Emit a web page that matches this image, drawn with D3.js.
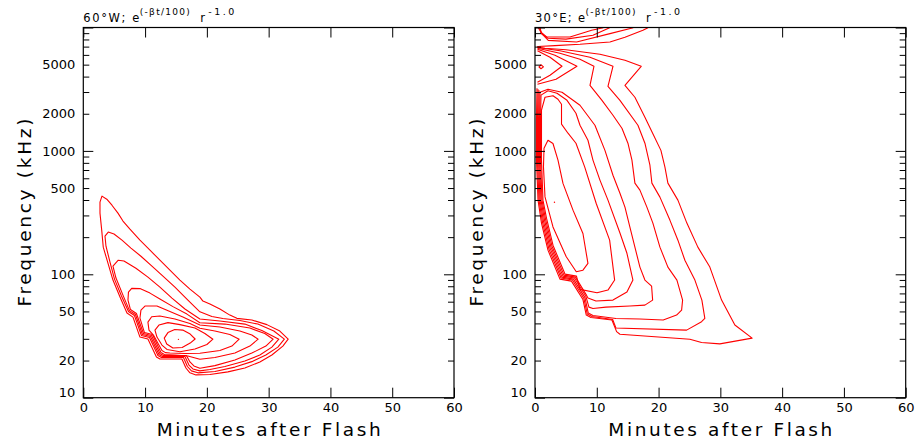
<!DOCTYPE html>
<html>
<head>
<meta charset="utf-8">
<script src="https://cdn.jsdelivr.net/npm/d3@7/dist/d3.min.js"></script>
<style>
  html,body{margin:0;padding:0;background:#fff;}
  svg{display:block;}
</style>
</head>
<body>
<svg id="chart" width="915" height="440"></svg>
<script>
// ---------- axis / text data ----------
const xDomain = [0, 60];
const yDomain = [10, 10000];
const xTickValues = [0, 10, 20, 30, 40, 50, 60];
const yTickLabelValues = [10, 20, 50, 100, 500, 1000, 2000, 5000];
const panelTitles = ["60°W; e", "30°E; e"];
const titleExponent = "(-βt/100)";
const titleTail = "r";
const titleTailExponent = "-1.0";
const xAxisTitle = "Minutes after Flash";
const yAxisTitle = "Frequency (kHz)";

// ---------- contour data: [minutes after flash, frequency kHz] ----------
// 60°W panel (closed contours, outermost first)
const west1 = [[3.02,430],[3.8,406],[4.64,363],[5.61,313],[6.42,270],[7.55,232],[9.17,189],[10.79,157],[12.4,130],[14.02,108],[15.64,89.8],[17.26,75.9],[18.87,65.4],[19.36,60.7],[20.49,57.4],[22.11,52.3],[23.72,46.7],[24.86,43.95],[27.28,42.6],[29.71,39.1],[31.81,34.7],[33.16,29.8],[32.3,26.2],[30.52,22.2],[28.58,19.5],[26.15,17.4],[23.4,16.2],[20.49,15.4],[18.23,15.3],[17.26,15.9],[16.61,17.4],[15.96,20.6],[12.4,20.6],[11.84,21.4],[10.46,29.9],[9.17,31.0],[8.04,45.0],[7.07,48.5],[5.94,65.4],[4.8,89.8],[3.99,123],[3.23,166],[2.98,228],[2.7,313],[2.7,384]];
const west2 = [[4.04,220],[4.97,212],[6.26,189],[7.71,163],[9.33,140],[11.11,116.5],[12.89,96.7],[14.83,78.8],[16.93,61.8],[18.87,49.7],[20.81,45.5],[22.59,43.8],[25.34,42.2],[28.25,39.5],[30.84,34.7],[32.54,29.8],[31.49,25.7],[29.55,22.2],[27.28,19.6],[24.54,17.7],[21.3,16.3],[18.55,15.9],[17.5,16.5],[16.85,17.9],[16.21,21.2],[12.65,21.2],[12.08,22.0],[10.71,30.7],[9.41,31.9],[8.28,46.3],[7.31,49.9],[6.18,66.6],[5.05,91.4],[4.32,125.6],[3.67,169],[3.51,204]];
const west3 = [[5.66,130],[6.58,128],[8.52,112],[10.46,94.9],[12.4,78.8],[14.35,64.2],[16.45,52.3],[18.87,43.4],[22.11,41.8],[26.15,39.5],[28.9,35.0],[31.65,29.8],[30.52,25.7],[28.58,22.2],[26.15,19.8],[22.92,17.9],[20.49,16.9],[18.87,16.5],[17.74,17.1],[17.1,18.4],[16.45,21.6],[12.81,21.6],[12.24,22.4],[10.87,31.3],[9.57,32.5],[8.44,47.2],[7.47,50.8],[6.42,67.8],[5.29,93.2],[4.8,116.5]];
const west4 = [[7.83,76.9],[9.17,76.6],[10.79,70.4],[12.4,63.0],[14.51,54.7],[16.77,47.6],[18.87,40.5],[22.92,39.5],[26.96,36.7],[29.38,33.1],[30.73,29.8],[29.55,26.2],[27.28,23.0],[24.54,20.2],[21.3,18.2],[18.87,17.3],[17.9,18.1],[17.26,19.5],[16.69,22.0],[12.97,22.0],[12.4,22.8],[11.03,31.9],[9.74,33.1],[8.6,48.1],[7.63,51.8],[7.23,61.8],[7.31,71.8]];
const west5 = [[9.98,55.3],[11.92,55.3],[14.02,49.9],[16.12,45.0],[18.87,38.8],[22.11,37.4],[25.34,34.7],[27.28,32.2],[28.3,29.8],[26.96,26.2],[24.54,23.0],[21.3,21.2],[18.87,20.5],[16.93,21.8],[14.83,22.2],[13.13,22.4],[12.57,23.2],[11.19,32.5],[9.9,33.7],[9.17,44.2],[9.33,51.3]];
const west6 = [[11.06,45.3],[12.4,45.9],[14.83,43.4],[17.26,39.9],[18.87,36.5],[21.3,34.7],[23.72,32.5],[25.23,29.8],[24.05,26.2],[22.11,24.1],[18.87,22.9],[16.45,22.8],[14.02,23.0],[13.29,23.2],[12.73,24.1],[11.35,32.2],[10.63,35.3],[10.46,41.0]];
const west7 = [[11.6,35.3],[12.24,38.8],[13.7,40.6],[15.64,39.1],[18.07,36.7],[19.68,33.1],[20.98,29.8],[20.01,27.0],[18.07,24.8],[15.64,23.6],[13.54,24.6],[12.73,26.7],[11.92,31.0]];
const west8 = [[13.1,30.4],[13.7,33.7],[14.8,35.7],[16.1,35.3],[17.3,32.8],[18.1,29.9],[17.3,27.7],[16.0,25.5],[14.5,25.3],[13.5,27.2]];
const westDot = [15.4, 29.7];

// 30°E panel
const east1 = [[18.28,9940],[17.47,9490],[14.56,8330],[12.13,7630],[7.28,7310],[3.23,7135],[0.49,7018],[0.4,6953],[1.62,6785],[5.01,6598],[10.51,6067],[14.56,5420],[17.19,4850],[14.56,3400],[16.17,2722],[17.79,1875],[19.04,1391],[20.38,1010],[21.03,738],[21.51,548],[23.13,399],[24.58,260],[26.36,166],[28.3,114.4],[30.2,61.8],[32.35,38.8],[35.14,30.4],[29.92,27.3],[26.96,28.0],[25.07,29.8],[13.75,32.7],[13.21,34.3],[12.45,42.6],[9.06,44.6],[8.3,46.7],[7.76,62.4],[5.9,88.1],[4.04,91.4],[2.1,157],[1.05,260],[0.49,399],[0.24,842],[0.24,1770],[0.32,3220]];
const east2 = [[0.4,6887],[4.04,6477],[8.9,5738],[12.62,4850],[11.81,3340],[13.75,2570],[16.66,1615],[17.79,1154],[18.6,766],[18.92,548],[20.22,422],[21.83,275],[23.13,189],[24.26,130],[25.88,89.8],[27.01,61.8],[27.49,43.95],[26.96,41.3],[24.54,35.3],[13.1,36.7],[12.57,43.0],[9.22,45.5],[8.46,47.6],[7.92,63.6],[6.06,89.8],[4.21,93.2],[2.26,160],[1.21,265],[0.65,399],[0.4,842],[0.4,1770],[0.49,3160]];
const east3 = [[0.4,6785],[4.04,6180],[7.28,5527],[9.54,4850],[8.9,3400],[10.84,2570],[12.62,1945],[14.07,1527],[15.04,1154],[15.69,842],[16.17,548],[16.98,481],[18.11,350],[19.08,260],[20.22,166],[21.51,114.4],[22.97,89.8],[23.89,61.8],[23.73,51.3],[22.92,46.7],[20.75,42.6],[16.98,43.4],[13.1,43.8],[9.38,46.3],[8.62,48.5],[8.09,64.75],[6.23,91.4],[4.37,94.9],[2.43,163],[1.37,270],[0.81,399],[0.57,842],[0.57,1770],[0.65,3100]];
const eastTop1 = [[0.53,9940],[0.97,9145],[1.89,8375],[5.66,8375],[9.17,9490],[11.05,9940]];
const eastTop2 = [[0.76,9940],[1.02,8925],[2.1,8175],[5.01,8053],[9.38,8650],[12.08,9940]];
const eastTop3 = [[0.81,9940],[1.05,8980],[2.15,7870],[6.74,7630],[12.13,8925],[15.9,9940]];
const eastChevron4 = [[0.4,6660],[3.23,5950],[6.79,4850],[3.4,3806],[0.4,3467]];
const eastChevron5 = [[0.4,6477],[2.43,5738],[4.37,4850],[2.43,4100],[0.4,3600]];
const east4 = [[0.81,2987],[2.1,3160],[4.37,2987],[7.28,2344],[9.7,1615],[11.32,1010],[12.62,635],[13.75,454],[14.56,350],[15.36,241],[16.17,166],[16.98,114.4],[17.79,89.8],[18.87,80.3],[19.04,61.8],[17.79,56.3],[15.36,55.3],[11.48,54.2],[9.38,52.8],[8.73,54.2],[8.25,66.0],[6.39,93.2],[4.53,96.7],[2.59,166],[1.54,275],[0.97,399],[0.73,842],[0.73,1770]];
const east5 = [[0.97,2830],[2.1,3072],[3.56,2932],[5.18,2570],[6.63,2020],[7.28,1615],[8.57,1220],[9.38,842],[10.51,580],[11.81,399],[13.75,216],[14.88,148],[15.85,89.8],[14.88,71.8],[12.62,61.8],[9.87,60.7],[8.57,64.15],[8.33,67.8],[6.55,94.9],[4.69,98.5],[2.75,169],[1.7,280],[1.13,399],[0.89,842],[0.89,1770]];
const east6 = [[1.05,2140],[1.62,2722],[2.91,2798],[3.72,2621],[4.29,2388],[4.29,1646],[5.34,1391],[6.63,1154],[8.04,742],[9.91,375],[12.08,189],[12.89,89.8],[11.81,74.5],[10.03,70.8],[7.28,75.5],[6.71,96.7],[4.85,100.4],[2.91,172],[1.86,285],[1.29,399],[1.05,842]];
const east7 = [[2.1,1220],[2.91,1148],[3.72,842],[4.53,545],[6.15,331],[7.76,214],[8.57,122.5],[7.76,108],[6.68,104.8],[5.06,138.6],[2.91,242],[1.62,424],[1.37,742],[1.46,1051]];
const eastLoop = [[0.65,4787],[0.97,4988],[1.37,4800],[0.97,4630]];
const eastDot = [3.15, 384];

// ---------- drawing ----------
const svg = d3.select("#chart");
const plotTop = 27.5, plotBottom = 397.7, plotWidth = 370.7;
const FONT = "'DejaVu Sans', Verdana, sans-serif";
const RED = "#ff0000";

const panels = [
  { left: 83.3, title: panelTitles[0], titleW: 56,
    closed: [west1, west2, west3, west4, west5, west6, west7, west8], open: [], dots: [westDot] },
  { left: 535, title: panelTitles[1], titleW: 50,
    closed: [east4, east5, east6, east7, eastLoop],
    open: [east1, east2, east3, eastTop1, eastTop2, eastTop3, eastChevron4, eastChevron5],
    dots: [eastDot] }
];

const labelSet = new Set(yTickLabelValues);
const isDecade = d => Math.abs(Math.log10(d) - Math.round(Math.log10(d))) < 1e-9;

panels.forEach((p, i) => {
  const x = d3.scaleLinear().domain(xDomain).range([p.left, p.left + plotWidth]);
  const y = d3.scaleLog().domain(yDomain).range([plotBottom, plotTop]);
  const g = svg.append("g");

  const clipId = "clip" + i;
  svg.append("defs").append("clipPath").attr("id", clipId)
    .append("rect").attr("x", p.left).attr("y", plotTop)
    .attr("width", plotWidth).attr("height", plotBottom - plotTop);

  const cg = g.append("g").attr("clip-path", `url(#${clipId})`)
    .attr("fill", "none").attr("stroke", RED).attr("stroke-width", 1.1)
    .attr("stroke-linejoin", "round");

  const lineOpen = d3.line().x(d => x(d[0])).y(d => y(d[1]));
  const lineClosed = d3.line().x(d => x(d[0])).y(d => y(d[1])).curve(d3.curveLinearClosed);

  cg.selectAll("path.closed").data(p.closed).join("path")
    .attr("class", "closed").attr("d", lineClosed);
  cg.selectAll("path.open").data(p.open).join("path")
    .attr("class", "open").attr("d", lineOpen);
  cg.selectAll("circle.dot").data(p.dots).join("circle")
    .attr("class", "dot").attr("cx", d => x(d[0])).attr("cy", d => y(d[1]))
    .attr("r", 0.7).attr("fill", RED).attr("stroke", "none");

  const yTicksAll = y.ticks();

  const gb = g.append("g").attr("transform", `translate(0,${plotBottom})`)
    .call(d3.axisBottom(x).tickValues(xTickValues).tickSizeInner(-10).tickSizeOuter(0)
      .tickPadding(5).tickFormat(d3.format("d")));
  const gt = g.append("g").attr("transform", `translate(0,${plotTop})`)
    .call(d3.axisTop(x).tickValues(xTickValues).tickSizeInner(-10).tickSizeOuter(0).tickFormat(""));
  const gl = g.append("g").attr("transform", `translate(${p.left},0)`)
    .call(d3.axisLeft(y).tickValues(yTicksAll).tickSizeInner(-6).tickSizeOuter(0).tickPadding(8)
      .tickFormat(d => labelSet.has(Math.round(d)) ? d3.format("d")(Math.round(d)) : ""));
  gl.selectAll(".tick line").attr("x2", d => isDecade(d) ? 10 : 6);
  gl.selectAll(".tick text").filter(d => Math.round(d) === 10).attr("y", -5);
  const gr = g.append("g").attr("transform", `translate(${p.left + plotWidth},0)`)
    .call(d3.axisRight(y).tickValues(yTicksAll).tickSizeInner(-6).tickSizeOuter(0).tickFormat(""));
  gr.selectAll(".tick line").attr("x2", d => isDecade(d) ? -10 : -6);

  [gb, gt, gl, gr].forEach(a => {
    a.select(".domain").remove();
    a.attr("font-family", FONT).attr("font-size", 13);
    a.selectAll(".tick line").attr("stroke", "#000").attr("stroke-width", 1);
    a.selectAll(".tick text").attr("fill", "#000");
  });

  g.append("rect").attr("x", p.left).attr("y", plotTop)
    .attr("width", plotWidth).attr("height", plotBottom - plotTop)
    .attr("fill", "none").attr("stroke", "#000").attr("stroke-width", 1.2);

  const tg = g.append("g").attr("font-family", FONT).attr("fill", "#000");
  tg.append("text").attr("x", p.left).attr("y", 21.5).attr("font-size", 11.5)
    .attr("textLength", p.titleW).attr("lengthAdjust", "spacing").text(p.title);
  tg.append("text").attr("x", p.left + p.titleW + 0.5).attr("y", 15).attr("font-size", 9)
    .attr("textLength", 50).attr("lengthAdjust", "spacing").text(titleExponent);
  tg.append("text").attr("x", p.left + p.titleW + 61).attr("y", 21.5).attr("font-size", 11.5)
    .text(titleTail);
  tg.append("text").attr("x", p.left + p.titleW + 69).attr("y", 15).attr("font-size", 9.5)
    .attr("textLength", 26).attr("lengthAdjust", "spacing").text(titleTailExponent);

  g.append("text").attr("x", p.left + plotWidth / 2).attr("y", 435.5)
    .attr("text-anchor", "middle").attr("font-family", FONT).attr("font-size", 18.5)
    .attr("textLength", 224).attr("lengthAdjust", "spacing").text(xAxisTitle);
  g.append("text")
    .attr("transform", `translate(${p.left - 52},${(plotTop + plotBottom) / 2}) rotate(-90)`)
    .attr("text-anchor", "middle").attr("font-family", FONT).attr("font-size", 18.5)
    .attr("textLength", 188).attr("lengthAdjust", "spacing").text(yAxisTitle);
});
</script>
</body>
</html>
